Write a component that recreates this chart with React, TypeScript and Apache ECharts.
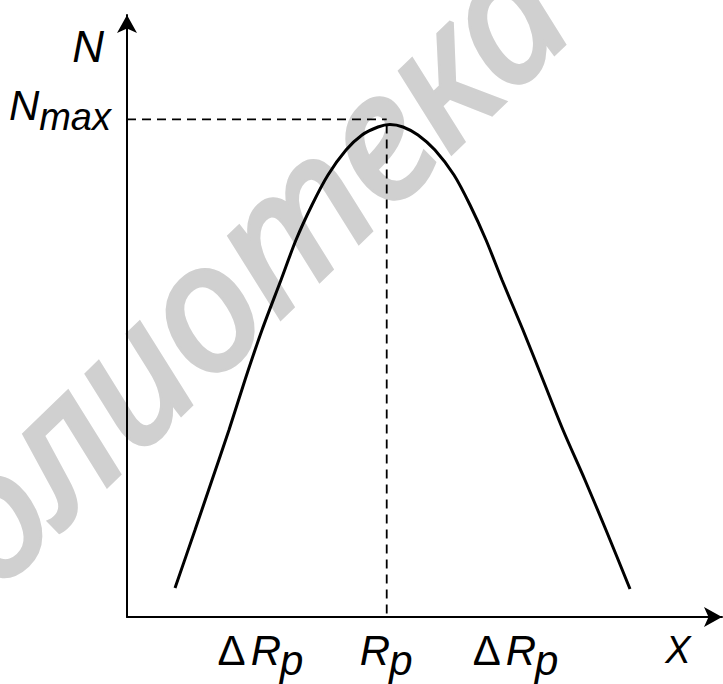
import { useEffect, useRef } from 'react';
import * as echarts from 'echarts';

// Implanted-ion concentration profile N(X) — depth vs. concentration (relative units)
const depthX = [
  8.07, 11.43, 14.29, 17.14, 19.83, 22.69, 25.88, 28.4, 31.09, 33.78, 36.81, 39.5, 42.18,
  44.2,
  46.39, 48.91, 51.76, 54.96, 57.65, 60.34, 63.03, 66.55, 69.92, 73.28, 76.97, 80.5, 84.54,
];
const concN = [
  4.82, 14.45, 22.76, 31.06, 39.37, 47.67, 55.98, 62.62, 68.44, 73.42, 77.57, 80.07, 81.4,
  81.81,
  81.4, 80.07, 77.57, 73.42, 68.44, 62.62, 55.98, 47.67, 39.37, 31.06, 22.76, 14.45, 4.65,
];

// Projected range R_p and the N_max level
const projectedRange = 43.65;
const nMaxLevel = 82.67;
const curveTopAtRp = 81.8;

// Tick labels under the X axis: [prefix, main, subscript]
const xTickValues = [22.52, 43.65, 65.38, 92.61];
const xTickLabels = [
  ['Δ', 'R', 'p'],
  ['', 'R', 'p'],
  ['Δ', 'R', 'p'],
  ['', 'X', ''],
];
const yAxisTitle = 'N';
const yLevelLabel = ['N', 'max'];
const watermarkText = 'библиотека';

const FONT = '"Liberation Sans", Arial, sans-serif';

export default function App() {
  const ref = useRef<HTMLDivElement>(null);

  useEffect(() => {
    if (!ref.current) return;
    const chart = echarts.init(ref.current, null, { renderer: 'svg' });

    const axisLine = {
      show: true,
      symbol: ['none', 'arrow'],
      symbolSize: [15, 18],
      lineStyle: { color: '#000', width: 2 },
    };

    chart.setOption({
      animation: false,
      backgroundColor: '#fff',
      grid: { left: 127, right: 1, top: 15, bottom: 67 },
      xAxis: {
        type: 'value',
        min: 0,
        max: 100,
        axisLine,
        axisTick: { show: false },
        axisLabel: { show: false },
        splitLine: { show: false },
      },
      yAxis: {
        type: 'value',
        min: 0,
        max: 100,
        axisLine,
        axisTick: { show: false },
        axisLabel: { show: false },
        splitLine: { show: false },
      },
      series: [
        {
          type: 'line',
          data: [
            [0, nMaxLevel],
            [projectedRange, nMaxLevel],
          ],
          showSymbol: false,
          lineStyle: { color: '#000', width: 1.8, type: [9, 6] },
          z: 3,
        },
        {
          type: 'line',
          data: [
            [projectedRange, curveTopAtRp],
            [projectedRange, 0],
          ],
          showSymbol: false,
          lineStyle: { color: '#000', width: 1.8, type: [9, 6] },
          z: 3,
        },
        {
          type: 'line',
          data: depthX.map((x, i) => [x, concN[i]]),
          smooth: 0.3,
          showSymbol: false,
          lineStyle: { color: '#000', width: 3 },
          z: 4,
        },
      ],
    });

    const ctx = document.createElement('canvas').getContext('2d')!;
    const measure = (text: string, font: string) => {
      ctx.font = font;
      return ctx.measureText(text).width;
    };
    const toPx = (x: number, y: number) =>
      chart.convertToPixel({ gridIndex: 0 }, [x, y]) as number[];

    const [axisX, axisY] = toPx(0, 0);
    const elements: any[] = [];

    // faint diagonal watermark behind the plot
    elements.push({
      type: 'text',
      x: 170,
      y: 330,
      rotation: (44 * Math.PI) / 180,
      z: -10,
      silent: true,
      style: {
        text: watermarkText,
        font: `italic 175px "Noto Sans", "Open Sans", sans-serif`,
        fill: '#d0d0d0',
        stroke: '#d0d0d0',
        lineWidth: 5,
        textAlign: 'center',
        textVerticalAlign: 'middle',
        align: 'center',
        verticalAlign: 'middle',
      },
    });

    const txt = (text: string, x: number, baseline: number, size: number, italic: boolean) => ({
      type: 'text',
      x,
      y: baseline - 0.35 * size,
      style: {
        text,
        font: `${italic ? 'italic ' : ''}${size}px ${FONT}`,
        fill: '#000',
        textAlign: 'left',
        textVerticalAlign: 'middle',
        align: 'left',
        verticalAlign: 'middle',
      },
    });

    // X axis labels
    const xBase = axisY + 48;
    xTickValues.forEach((v, i) => {
      const [pre, main, sub] = xTickLabels[i];
      const size = main === 'X' ? 38 : 42;
      const fUp = `${size}px ${FONT}`;
      const fIt = `italic ${size}px ${FONT}`;
      const gap = pre ? 5 : 0;
      const wPre = pre ? measure(pre, fUp) : 0;
      const wMain = measure(main, fIt);
      const wSub = sub ? measure(sub, fIt) : 0;
      const total = wPre + gap + wMain + wSub;
      const cx = chart.convertToPixel({ xAxisIndex: 0 }, v) as number;
      let left = cx - total / 2;
      if (pre) elements.push(txt(pre, left, xBase, size, false));
      left += wPre + gap;
      elements.push(txt(main, left, main === 'X' ? xBase - 2 : xBase, size, true));
      left += wMain;
      if (sub) elements.push(txt(sub, left - 1, xBase + 10, size, true));
    });

    // Y axis title N
    {
      const size = 44;
      const w = measure(yAxisTitle, `italic ${size}px ${FONT}`);
      const [, topY] = toPx(0, 100);
      elements.push(txt(yAxisTitle, axisX - 23 - w, topY + 47, size, true));
    }

    // N_max level label
    {
      const size = 42;
      const fIt = `italic ${size}px ${FONT}`;
      const subSize = 38;
      const wN = measure(yLevelLabel[0], fIt);
      const wSub = measure(yLevelLabel[1], `italic ${subSize}px ${FONT}`);
      const [, ly] = toPx(0, nMaxLevel);
      const right = axisX - 16;
      const left = right - wSub - wN;
      elements.push(txt(yLevelLabel[0], left, ly + 1, size, true));
      elements.push(txt(yLevelLabel[1], left + wN, ly + 11, subSize, true));
    }

    chart.setOption({ graphic: { elements } });

    return () => chart.dispose();
  }, []);

  return (
    <div
      ref={ref}
      style={{ position: 'absolute', left: 0, top: 0, width: 723, height: 684 }}
    />
  );
}
